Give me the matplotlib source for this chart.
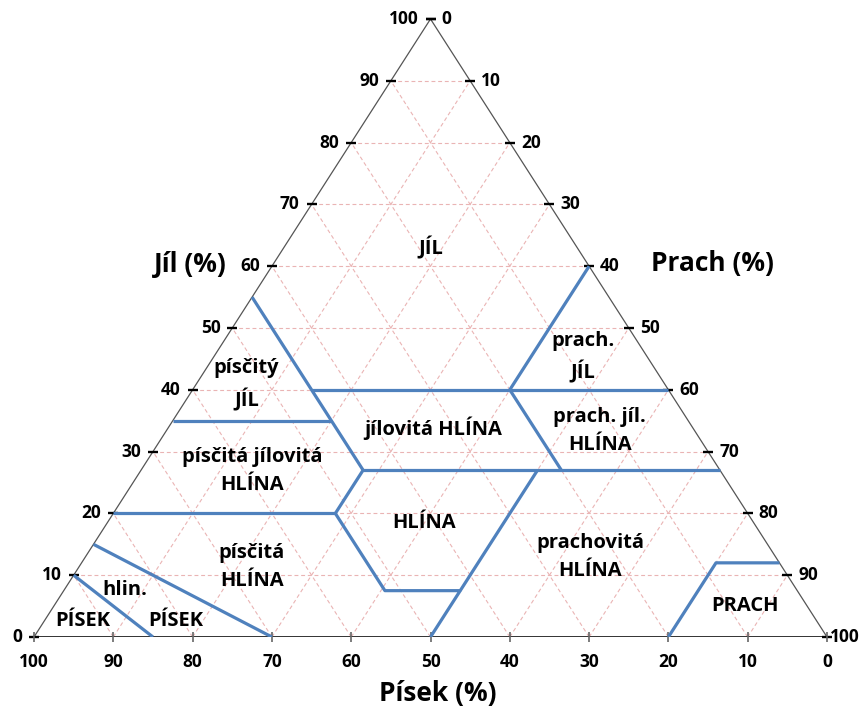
import numpy as np
import matplotlib.pyplot as plt

plt.rcParams['font.family'] = ['Open Sans', 'DejaVu Sans']
plt.rcParams['font.weight'] = 'bold'

# tick values along each side (percent)
ticks = [0, 10, 20, 30, 40, 50, 60, 70, 80, 90, 100]

# class boundaries as (sand, clay) polylines; silt = 100 - sand - clay
boundaries = [
    [(45, 55), (45, 27), (52, 20), (52, 7.5), (42.5, 7.5), (50, 0)],
    [(45, 40), (0, 40)],
    [(20, 40), (0, 60)],
    [(20, 40), (20, 27)],
    [(45, 27), (0, 27)],
    [(42.5, 7.5), (23, 27)],
    [(65, 35), (45, 35)],
    [(80, 20), (52, 20)],
    [(85, 15), (70, 0)],
    [(90, 10), (85, 0)],
    [(20, 0), (8, 12), (0, 12)],
]

# class names and where they sit (sand, clay)
class_names = ['JÍL', 'písčitý\nJÍL', 'jílovitá HLÍNA', 'prach.\nJÍL',
               'prach. jíl.\nHLÍNA', 'písčitá jílovitá\nHLÍNA', 'HLÍNA',
               'prachovitá\nHLÍNA', 'písčitá\nHLÍNA', 'hlin.', 'PÍSEK',
               'PÍSEK', 'PRACH']
name_sand = [18.5, 52.8, 32.8, 8.1, 12.0, 59.0, 41.6, 23.4, 66.9, 84.7, 92.6, 80.8, 7.8]
name_clay = [62.9, 40.8, 33.8, 45.3, 33.3, 26.9, 18.4, 12.9, 11.3, 7.6, 2.6, 2.6, 5.0]


def tern(sand, clay):
    sand = np.asarray(sand, dtype=float)
    clay = np.asarray(clay, dtype=float)
    silt = 100 - sand - clay
    return silt + clay / 2, clay


fig = plt.figure(figsize=(8.6, 7.11), dpi=100)
ax = fig.add_axes([34 / 860, (711 - 637) / 711, 793 / 860, 618 / 711])
ax.set_xlim(0, 100)
ax.set_ylim(0, 100)
ax.axis('off')

# dashed grid every 10 %
grid_kw = dict(color='#eab4b4', lw=0.8, ls=(0, (3.5, 2.5)), zorder=1)
for k in ticks[1:-1]:
    x, y = tern([100 - k, 0], [k, k])           # clay = k
    ax.plot(x, y, **grid_kw)
    x, y = tern([100 - k, 0], [0, 100 - k])     # silt = k
    ax.plot(x, y, **grid_kw)
    x, y = tern([k, k], [0, 100 - k])           # sand = k
    ax.plot(x, y, **grid_kw)

# triangle outline
x, y = tern([100, 0], [0, 100])
ax.plot(x, y, color='#555555', lw=0.9, zorder=2)
x, y = tern([0, 0], [100, 0])
ax.plot(x, y, color='#555555', lw=0.9, zorder=2)
x, y = tern([100, 0], [0, 0])
ax.plot(x, y, color='#333333', lw=1.4, zorder=2)

# tick marks
t = np.array(ticks)
x, y = tern(100 - t, t)
ax.plot(x, y, ls='none', marker='_', ms=6.5, mew=1.7, color='black', zorder=3, clip_on=False)
x, y = tern(np.zeros_like(t), 100 - t)
ax.plot(x, y, ls='none', marker='_', ms=6.5, mew=1.7, color='black', zorder=3, clip_on=False)
x, y = tern(t, np.zeros_like(t))
ax.plot(x, y, ls='none', marker='|', ms=7.5, mew=1.2, color='#666666', zorder=3, clip_on=False)

# tick labels
tick_fs = 12.5
for v in ticks:
    x, y = tern(100 - v, v)
    ax.annotate(str(v), (x, y), xytext=(-8.5, 0), textcoords='offset points',
                ha='right', va='center', fontsize=tick_fs)
    x, y = tern(0, 100 - v)
    dx = 2 if v == 100 else 8
    ax.annotate(str(v), (x, y), xytext=(dx, 0), textcoords='offset points',
                ha='left', va='center', fontsize=tick_fs)
    x, y = tern(v, 0)
    ax.annotate(str(v), (x, y), xytext=(0, -18), textcoords='offset points',
                ha='center', va='center', fontsize=tick_fs)

# class boundaries
for line in boundaries:
    s, c = zip(*line)
    x, y = tern(s, c)
    ax.plot(x, y, color='#4f81bd', lw=2.3, zorder=4, solid_capstyle='butt')

# class names
x, y = tern(name_sand, name_clay)
for name, xi, yi in zip(class_names, x, y):
    ax.text(xi, yi, name, ha='center', va='center', fontsize=14.5,
            linespacing=1.55, zorder=5)

# side titles
fig.text(190 / 860, 1 - 265 / 711, 'Jíl (%)', ha='center', va='center', fontsize=19)
fig.text(712 / 860, 1 - 264 / 711, 'Prach (%)', ha='center', va='center', fontsize=19)
fig.text(438 / 860, 1 - 693 / 711, 'Písek (%)', ha='center', va='center', fontsize=19)

fig.savefig('out.png', dpi=100)
